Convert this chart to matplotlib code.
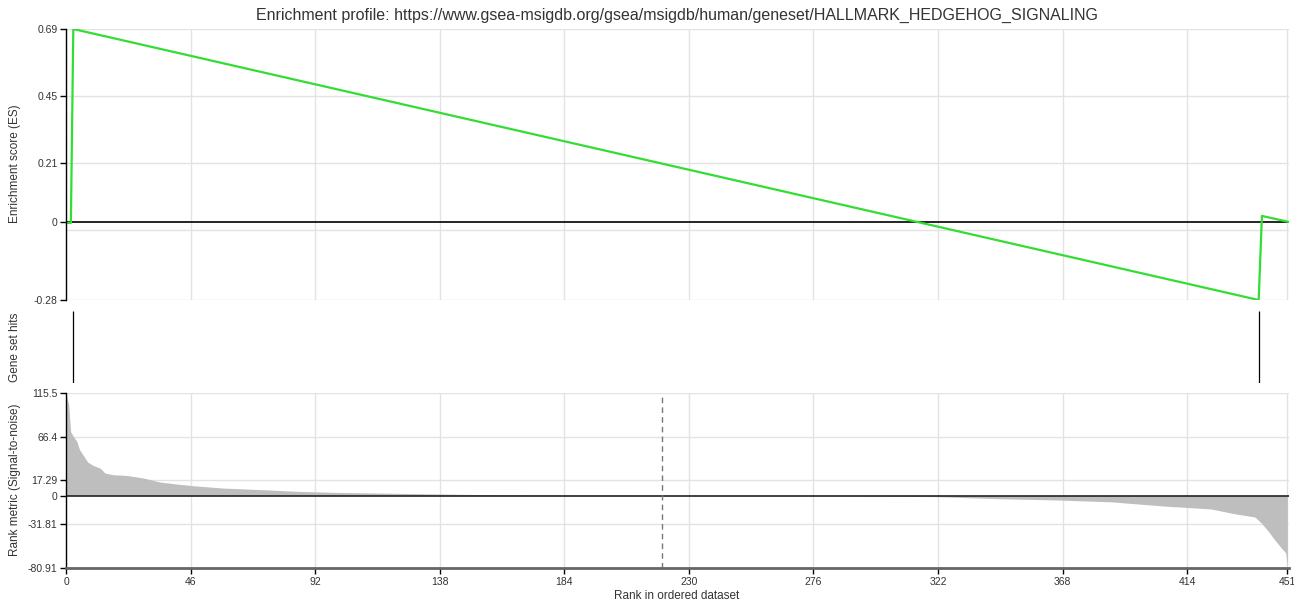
import matplotlib
matplotlib.use("Agg")
import matplotlib.pyplot as plt

plt.rcParams['font.family'] = ['Liberation Sans', 'DejaVu Sans']

title = "Enrichment profile: https://www.gsea-msigdb.org/gsea/msigdb/human/geneset/HALLMARK_HEDGEHOG_SIGNALING"

# running enrichment score (vertices of the curve)
es_rank = [0, 1.8, 2.7, 440.4, 441.6, 451.3]
es_score = [-0.004, -0.004, 0.69, -0.28, 0.021, 0.0]

# gene set hit positions
hit_ranks = [2.6, 440.6]

# ranked list metric
metric_rank = [0, 1, 1.7, 2.7, 4, 5, 6.4, 8, 10, 12.6, 14.4, 17.5, 22.4, 28.6, 34.7, 41, 47,
               58, 73, 86.5, 100, 115, 132, 150, 165, 190, 220, 250, 290, 300, 322, 345,
               367, 386, 394.5, 407, 414, 423, 431.5, 439, 441.4, 444, 446.3, 448.8, 450.4, 451]
metric_value = [115.5, 102, 72, 66.7, 61, 51.7, 45.3, 37.8, 34, 31, 25.4, 23.5, 22.7, 19.8, 15.3, 13, 11.1,
                8.5, 6.6, 4.7, 3.6, 2.9, 2.1, 1.3, 0.8, 0.4, 0, -0.1, -0.3, -0.5, -1.2, -3.5,
                -5, -7, -9.1, -12.1, -13.3, -15.1, -20.4, -24.1, -30.9, -40.3, -49.7, -59, -64.6, -80.91]
zero_cross = 220.1

x_ticks = [0, 46, 92, 138, 184, 230, 276, 322, 368, 414, 451]
es_ticks = [0.69, 0.45, 0.21, 0, -0.28]
es_grid = [0.69, 0.45, 0.21, -0.03, -0.28]
metric_ticks = [115.5, 66.4, 17.29, 0, -31.81, -80.91]
metric_grid = [115.5, 66.4, 17.29, -31.81, -80.91]

W, H = 1294, 611
fig = plt.figure(figsize=(W / 100, H / 100), dpi=100)

left = 66 / W
width = (1289 - 66) / W
xmax = 451.6
grid_c = '#e3e3e3'
tick_c = '#333333'


def frac(top, bottom):
    return [left, 1 - bottom / H, width, (bottom - top) / H]


def style(ax):
    for s in ['top', 'right', 'bottom']:
        ax.spines[s].set_visible(False)
    ax.spines['left'].set_color('black')
    ax.spines['left'].set_linewidth(1.0)
    ax.tick_params(axis='y', length=4, width=1, colors='black', labelcolor=tick_c, labelsize=7.5, pad=2)
    ax.set_xlim(0, xmax)
    for xt in x_ticks:
        ax.axvline(xt, color=grid_c, lw=1, zorder=0)


# ES panel
ax1 = fig.add_axes(frac(29, 300))
style(ax1)
ax1.set_ylim(-0.28, 0.69)
for g in es_grid:
    ax1.axhline(g, color=grid_c, lw=1, zorder=0)
ax1.axhline(0, color='black', lw=1.2, zorder=1)
ax1.plot(es_rank, es_score, color='#33dd33', lw=1.6, zorder=2)
ax1.set_yticks(es_ticks)
ax1.set_yticklabels(['0.69', '0.45', '0.21', '0', '-0.28'])
ax1.set_xticks([])

# hits panel
ax2 = fig.add_axes(frac(311, 383))
for s in ax2.spines.values():
    s.set_visible(False)
ax2.set_xlim(0, xmax)
ax2.set_ylim(0, 1)
ax2.set_xticks([])
ax2.set_yticks([])
ax2.vlines(hit_ranks, 0, 1, color='black', lw=0.9)

# rank metric panel
ax3 = fig.add_axes(frac(393, 567.5))
style(ax3)
ax3.set_ylim(-80.91, 115.5)
for g in metric_grid:
    ax3.axhline(g, color=grid_c, lw=1, zorder=0)
ax3.fill_between(metric_rank, metric_value, 0, color='#bebebe', lw=0, zorder=1)
ax3.axhline(0, color='#222222', lw=1.2, zorder=2)
ax3.axvline(zero_cross, color='#777777', lw=1, ls=(0, (4, 3)), zorder=2)
ax3.spines['bottom'].set_visible(True)
ax3.spines['bottom'].set_color('#666666')
ax3.spines['bottom'].set_linewidth(2)
ax3.set_yticks(metric_ticks)
ax3.set_yticklabels(['115.5', '66.4', '17.29', '0', '-31.81', '-80.91'])
ax3.set_xticks(x_ticks)
ax3.tick_params(axis='x', length=4, width=1, colors='black', labelcolor=tick_c, labelsize=7.5, pad=3)

fig.text(677 / W, 1 - 15 / H, title, ha='center', va='center', fontsize=11.5, color='#333333')
fig.text(15 / W, 1 - 164 / H, 'Enrichment score (ES)', rotation=90, ha='center', va='center',
         fontsize=8.5, color='#333333')
fig.text(15 / W, 1 - 347 / H, 'Gene set hits', rotation=90, ha='center', va='center',
         fontsize=8.5, color='#333333')
fig.text(15 / W, 1 - 480 / H, 'Rank metric (Signal-to-noise)', rotation=90, ha='center', va='center',
         fontsize=8.5, color='#333333')
fig.text(677 / W, 1 - 596 / H, 'Rank in ordered dataset', ha='center', va='center',
         fontsize=8.5, color='#333333')

fig.savefig('out.png', dpi=100)
